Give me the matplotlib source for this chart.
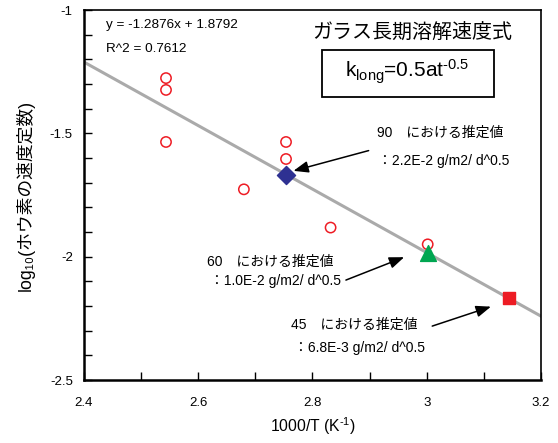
import matplotlib
matplotlib.use('Agg')
import matplotlib.pyplot as plt
from matplotlib.patches import Rectangle
from matplotlib.ticker import MultipleLocator

plt.rcParams['font.family'] = ['Liberation Sans', 'Noto Sans CJK JP']
plt.rcParams['mathtext.fontset'] = 'custom'
plt.rcParams['mathtext.rm'] = 'Liberation Sans'
plt.rcParams['mathtext.it'] = 'Liberation Sans'

# measured rate constants (1000/T, log10 k)
meas_x = [2.5436, 2.5436, 2.5436, 2.7537, 2.7537, 2.7537, 2.6799, 2.8317, 3.0017]
meas_y = [-1.276, -1.324, -1.535, -1.535, -1.604, -1.669, -1.727, -1.882, -1.950]

# fitted line y = -1.2876x + 1.8792
slope, intercept = -1.2876, 1.8792
line_x = [2.4, 3.2]

# estimated values at 90, 60, 45 C
est90 = (2.7537, -1.667)
est60 = (3.0017, -1.986)
est45 = (3.1432, -2.168)

fig = plt.figure(figsize=(5.58, 4.43), dpi=100)
ax = fig.add_axes([0.1505, 0.1422, 0.819, 0.8352])

ax.plot(line_x, [slope * x + intercept for x in line_x], color='#aaaaaa', lw=2.2, zorder=1)
ax.scatter(meas_x, meas_y, s=55, facecolors='none', edgecolors='#ee1c24', linewidths=1.1, zorder=2)
ax.scatter([est90[0]], [est90[1]], marker='D', s=85, color='#2e3192', zorder=3)
ax.scatter([est60[0]], [est60[1]], marker='^', s=130, color='#00a651', zorder=3)
ax.scatter([est45[0]], [est45[1]], marker='s', s=80, color='#ed1c24', zorder=3)

ax.set_xlim(2.4, 3.2)
ax.set_ylim(-2.5, -1)
ax.xaxis.set_minor_locator(MultipleLocator(0.1))
ax.yaxis.set_minor_locator(MultipleLocator(0.1))
ax.set_xticks([2.4, 2.6, 2.8, 3.0, 3.2])
ax.set_xticklabels(['2.4', '2.6', '2.8', '3', '3.2'])
ax.set_yticks([-2.5, -2, -1.5, -1])
ax.set_yticklabels(['-2.5', '-2', '-1.5', '-1'])
ax.tick_params(which='both', direction='in', top=False, right=False, labelsize=9.5)
ax.tick_params(axis='x', which='both', pad=12)
ax.tick_params(axis='y', which='both', pad=8)
ax.tick_params(which='both', length=6, width=1)
for side in ['left', 'bottom']:
    ax.spines[side].set_linewidth(1.8)
for side in ['top', 'right']:
    ax.spines[side].set_linewidth(1.2)

ax.set_xlabel(r'1000/T (K$^{\text{-}1}$)', fontsize=11.3, labelpad=5)
ax.set_ylabel('log₁₀(ホウ素の速度定数)', fontsize=12.8, labelpad=11)

ax.text(0.048, 0.96, 'y = -1.2876x + 1.8792', transform=ax.transAxes, fontsize=9.7, va='center')
ax.text(0.048, 0.895, 'R^2 = 0.7612', transform=ax.transAxes, fontsize=9.7, va='center')

ax.text(0.718, 0.936, 'ガラス長期溶解速度式', transform=ax.transAxes, fontsize=14.4, ha='center', va='center')
ax.add_patch(Rectangle((0.5208, 0.7649), 0.3764, 0.127, transform=ax.transAxes,
                       facecolor='white', edgecolor='black', lw=1.3, zorder=4))
ax.text(0.7068, 0.8324, r'k$_{long}$=0.5at$^{\text{-}0.5}$', transform=ax.transAxes, fontsize=15,
        ha='center', va='center', zorder=5)

arrow = dict(arrowstyle='-|>,head_length=0.9,head_width=0.35', color='black', lw=1.1)
ax.annotate('', xy=(2.762, -1.655), xytext=(2.903, -1.567), arrowprops=arrow)
ax.annotate('', xy=(2.965, -1.998), xytext=(2.854, -2.099), arrowprops=arrow)
ax.annotate('', xy=(3.117, -2.199), xytext=(3.005, -2.285), arrowprops=arrow)

fs = 10
ax.text(2.913, -1.496, '90　における推定値', fontsize=fs, va='center')
ax.text(2.915, -1.612, '：2.2E-2 g/m2/ d^0.5', fontsize=fs, va='center')
ax.text(2.615, -2.021, '60　における推定値', fontsize=fs, va='center')
ax.text(2.62, -2.098, '：1.0E-2 g/m2/ d^0.5', fontsize=fs, va='center')
ax.text(2.763, -2.277, '45　における推定値', fontsize=fs, va='center')
ax.text(2.768, -2.37, '：6.8E-3 g/m2/ d^0.5', fontsize=fs, va='center')

fig.savefig('out.png', dpi=100)
